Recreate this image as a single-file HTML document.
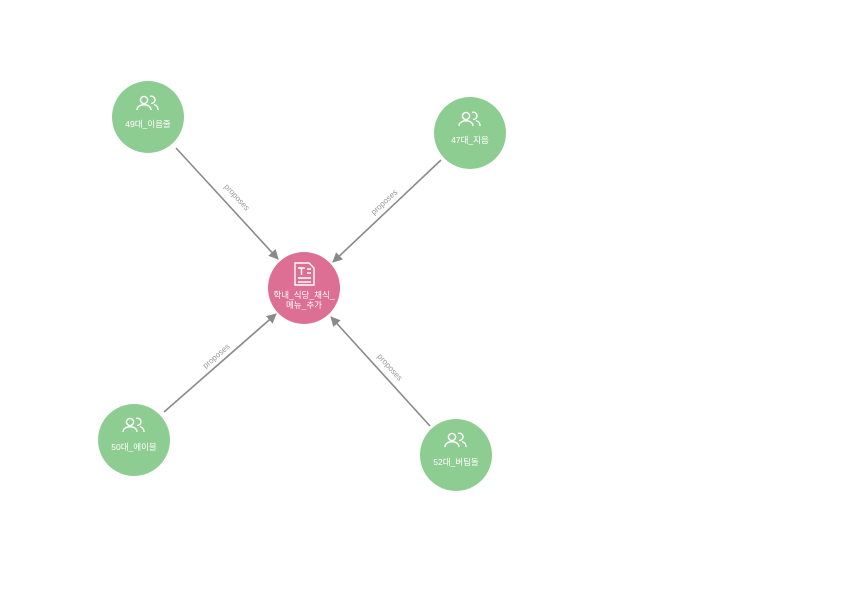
<!DOCTYPE html>
<html><head><meta charset="utf-8"><style>
html,body{margin:0;padding:0;background:#fff;width:850px;height:595px;overflow:hidden}
text{font-family:"Liberation Sans","Noto Sans CJK KR",sans-serif}
</style></head><body>
<svg width="850" height="595" viewBox="0 0 850 595" xmlns="http://www.w3.org/2000/svg">
<defs>
<marker id="a" markerWidth="10" markerHeight="10" refX="9" refY="5" orient="auto" markerUnits="userSpaceOnUse">
<path d="M0,0 L10,5 L0,10 Z" fill="#8a8a8a"/>
</marker>
<g id="ppl" fill="none" stroke="#fff" stroke-width="1.4">
<circle cx="-4" cy="-4" r="3.6"/><path d="M-11,6 C-11,-1 3,-1 3,6"/>
<path d="M2,-7.5 A3.6,3.6 0 1 1 3,-0.6"/><path d="M6,0.5 C9,1.5 10,3 10,6"/>
</g>
</defs>
<g stroke="#8a8a8a" stroke-width="1.6" marker-end="url(#a)">
<line x1="176" y1="148" x2="278" y2="259"/>
<line x1="441" y1="160" x2="333" y2="262"/>
<line x1="164" y1="412" x2="276" y2="314"/>
<line x1="430" y1="426" x2="331" y2="317"/>
</g>
<g font-size="8" fill="#999" text-anchor="middle">
<text transform="translate(235,199) rotate(47)">proposes</text>
<text transform="translate(386,204) rotate(-43)">proposes</text>
<text transform="translate(218,358) rotate(-41)">proposes</text>
<text transform="translate(388,369) rotate(48)">proposes</text>
</g>
<g fill="#8ecd92">
<circle cx="148" cy="117" r="36"/>
<circle cx="470" cy="133" r="36"/>
<circle cx="134" cy="440" r="36"/>
<circle cx="456" cy="455" r="36"/>
</g>
<circle cx="304" cy="288" r="36" fill="#dd6f95"/>
<use href="#ppl" x="148" y="104"/>
<use href="#ppl" x="470" y="120"/>
<use href="#ppl" x="134" y="426"/>
<use href="#ppl" x="456" y="441"/>
<g fill="#fff" font-size="8.5" text-anchor="middle">
<text x="148" y="127">49대_이음줄</text>
<text x="470" y="143">47대_지음</text>
<text x="134" y="450">50대_에이블</text>
<text x="456" y="465">52대_버팀돌</text>
<text x="304" y="298">학내_식당_채식_</text>
<text x="304" y="308">메뉴_추가</text>
</g>
<g fill="none" stroke="#fff" stroke-width="1.4">
<path d="M295,263 H309 L314,268 V285 H295 Z"/>
<path d="M298,268 H305 M301.5,268 V275 M307,269 H311 M307,273 H311 M298,278 H311 M298,282 H311"/>
</g>
</svg>
</body></html>
